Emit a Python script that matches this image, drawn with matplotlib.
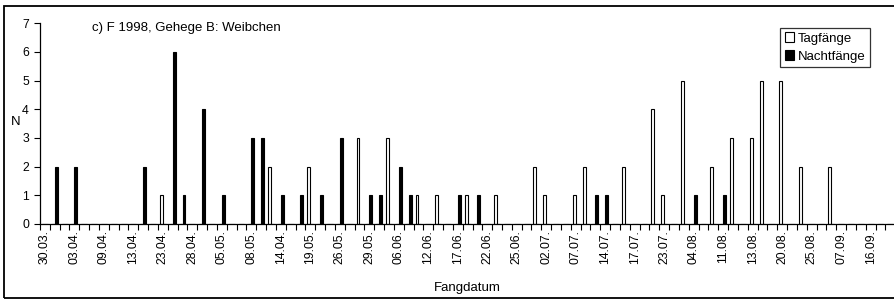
import numpy as np
import matplotlib
matplotlib.use('Agg')
import matplotlib.pyplot as plt
from matplotlib.patches import Rectangle, Patch

plt.rcParams['font.family'] = ['Liberation Sans', 'DejaVu Sans']

# Tick labels shown on every third category
tick_labels = ['30.03.', '03.04.', '09.04.', '13.04.', '23.04.', '28.04.',
               '05.05.', '08.05.', '14.04.', '19.05.', '26.05.', '29.05.',
               '06.06.', '12.06.', '17.06.', '22.06.', '25.06.', '02.07.',
               '07.07.', '14.07.', '17.07.', '23.07.', '04.08.', '11.08.',
               '13.08.', '20.08.', '25.08.', '07.09.', '16.09.']
label_step = 3
n_categories = 88

# Catches per sampling date (N)
tag_counts = [0, 0, 0, 0, 0, 0, 0, 0, 0, 0,
              0, 0, 1, 0, 0, 0, 0, 0, 0, 0,
              0, 0, 0, 2, 0, 0, 0, 2, 0, 0,
              0, 0, 3, 0, 0, 3, 0, 0, 1, 0,
              1, 0, 0, 1, 0, 0, 1, 0, 0, 0,
              2, 1, 0, 0, 1, 2, 0, 0, 0, 2,
              0, 0, 4, 1, 0, 5, 0, 0, 2, 0,
              3, 0, 3, 5, 0, 5, 0, 2, 0, 0,
              2, 0, 0, 0, 0, 0, 0, 0]
nacht_counts = [0, 2, 0, 2, 0, 0, 0, 0, 0, 0,
                2, 0, 0, 6, 1, 0, 4, 0, 1, 0,
                0, 3, 3, 0, 1, 0, 1, 0, 1, 0,
                3, 0, 0, 1, 1, 0, 2, 1, 0, 0,
                0, 0, 1, 0, 1, 0, 0, 0, 0, 0,
                0, 0, 0, 0, 0, 0, 1, 1, 0, 0,
                0, 0, 0, 0, 0, 0, 1, 0, 0, 1,
                0, 0, 0, 0, 0, 0, 0, 0, 0, 0,
                0, 0, 0, 0, 0, 0, 0, 0]

W, H = 895, 300
fig = plt.figure(figsize=(W / 100, H / 100), dpi=100)

# Plot area in pixel terms, x axis runs past the right edge (cropped chart)
left_px, top_px, bottom_px = 40, 23.3, 224
cat_px = 9.83
ax = fig.add_axes([left_px / W, 1 - bottom_px / H,
                   n_categories * cat_px / W, (bottom_px - top_px) / H])

x = np.arange(n_categories)
bar_w = 0.3
ax.bar(x + 0.35, tag_counts, width=bar_w, color='white',
       edgecolor='black', linewidth=0.8, label='Tagfänge')
ax.bar(x + 0.65, nacht_counts, width=bar_w, color='black',
       edgecolor='black', linewidth=0.8, label='Nachtfänge')

ax.set_xlim(0, n_categories)
ax.set_ylim(0, 7)
ax.set_yticks(range(0, 8))

# tick marks between categories, labels centred on every third category
ax.set_xticks(np.arange(0, n_categories + 1))
ax.set_xticklabels([])
label_pos = np.arange(len(tick_labels)) * label_step + 0.5
ax.set_xticks(label_pos, minor=True)
ax.set_xticklabels(tick_labels, minor=True, rotation=90, fontsize=8.8)

ax.tick_params(axis='x', which='major', direction='out', length=4,
               width=0.8, color='black')
ax.tick_params(axis='x', which='minor', length=0, pad=4.5)
ax.tick_params(axis='y', direction='out', length=4, width=0.8,
               labelsize=8.8, pad=4)

for side in ('top', 'right'):
    ax.spines[side].set_visible(False)
for side in ('left', 'bottom'):
    ax.spines[side].set_linewidth(0.9)
    ax.spines[side].set_color('black')

ax.set_ylabel('N', rotation=0, fontsize=9.5, ha='center', va='center')
ax.yaxis.set_label_coords((16 - left_px) / (n_categories * cat_px),
                          (bottom_px - 122) / (bottom_px - top_px))
ax.set_xlabel('Fangdatum', fontsize=9.5, va='center')
ax.xaxis.set_label_coords((467.5 - left_px) / (n_categories * cat_px),
                          (bottom_px - 287.5) / (bottom_px - top_px))

fig.text(91.7 / W, 1 - 22.5 / H, 'c) F 1998, Gehege B: Weibchen',
         fontsize=9.5, ha='left', va='top')

handles = [Patch(facecolor='white', edgecolor='black', linewidth=0.8),
           Patch(facecolor='black', edgecolor='black', linewidth=0.8)]
leg = fig.legend(handles, ['Tagfänge', 'Nachtfänge'],
                 loc='upper left', bbox_to_anchor=(780 / W, 1 - 27.7 / H),
                 fontsize=9.5, frameon=True, fancybox=False, shadow=False,
                 handlelength=0.7, handleheight=0.7, handletextpad=0.3,
                 labelspacing=0.45, borderpad=0.35, borderaxespad=0)
leg.get_frame().set_edgecolor('black')
leg.get_frame().set_linewidth(0.9)

# chart border, right side cut off like in the source image
fig.patches.append(Rectangle((4.5 / W, 2 / H), 1.0, 292.5 / H,
                             transform=fig.transFigure, fill=False,
                             edgecolor='black', linewidth=1.3))

fig.savefig('out.png', dpi=100)
